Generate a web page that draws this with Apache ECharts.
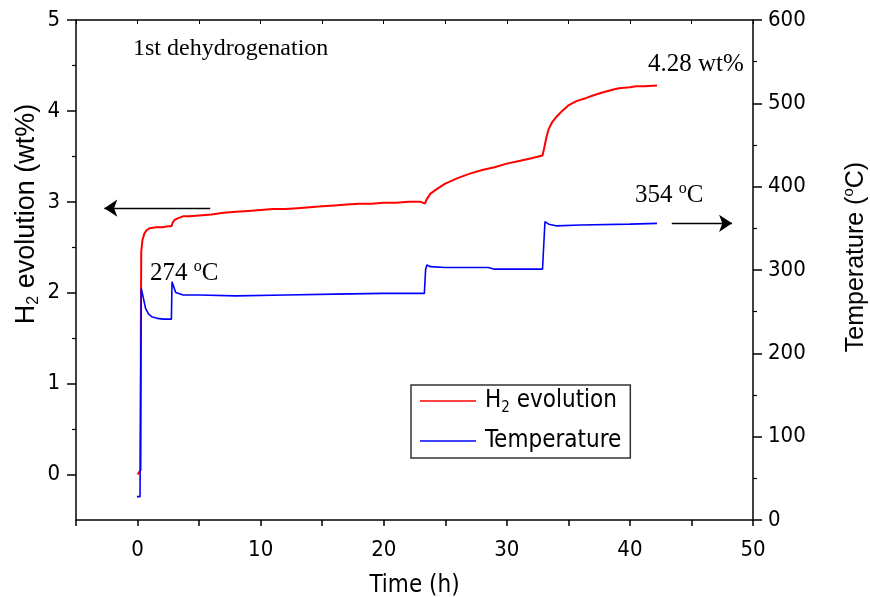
<!DOCTYPE html>
<html><head><meta charset="utf-8">
<script src="https://cdn.jsdelivr.net/npm/echarts@6/dist/echarts.min.js"></script>
<style>html,body{margin:0;padding:0;background:#fff}#c{width:870px;height:597px}</style>
</head><body><div id="c"></div>
<script>
// ---- data ----
const h2Time = [0, 0.15, 0.25, 0.27, 0.3, 0.4, 0.55, 0.75, 1.0, 1.5, 2.0, 2.5, 2.75, 2.85, 3.0, 3.3, 3.7, 4.2, 5, 6, 7, 8, 9, 10, 11, 12, 13, 14, 15, 16, 17, 18, 19, 20, 21, 22, 23, 23.35, 23.5, 23.8, 24.3, 25, 26, 27, 28, 29, 30, 31, 32, 32.9, 33.05, 33.2, 33.4, 33.7, 34, 34.5, 35, 35.7, 36.4, 37, 37.7, 38.5, 39.1, 40, 40.5, 41.2, 42.2];
const h2Values = [0, 0.02, 0.05, 1.6, 2.45, 2.58, 2.65, 2.69, 2.71, 2.72, 2.72, 2.73, 2.73, 2.77, 2.80, 2.82, 2.84, 2.84, 2.85, 2.86, 2.88, 2.89, 2.90, 2.91, 2.92, 2.92, 2.93, 2.94, 2.95, 2.96, 2.97, 2.98, 2.98, 2.99, 2.99, 3.00, 3.00, 2.98, 3.03, 3.09, 3.14, 3.20, 3.26, 3.31, 3.35, 3.38, 3.42, 3.45, 3.48, 3.51, 3.60, 3.70, 3.80, 3.88, 3.93, 4.00, 4.06, 4.11, 4.14, 4.17, 4.20, 4.23, 4.25, 4.26, 4.27, 4.27, 4.28];
const tempTime = [-0.05, 0.2, 0.25, 0.3, 0.45, 0.65, 0.9, 1.15, 1.6, 2.1, 2.75, 2.8, 2.85, 3.1, 3.7, 5, 8, 12, 16, 20, 23.3, 23.4, 23.5, 23.8, 25, 28.5, 29, 32.9, 33.0, 33.1, 33.4, 34, 36, 40, 42.2];
const tempValues = [28, 28, 30, 278, 268, 254, 247, 244, 242, 241, 241, 286, 288, 273, 270, 270, 269, 270, 271, 272, 272, 300, 306, 304, 303, 303, 301, 301, 330, 358, 355, 353, 354, 355, 356];
const xTickLabels = [0, 10, 20, 30, 40, 50];
const leftTickLabels = [0, 1, 2, 3, 4, 5];
const leftMinorTicks = [0.5, 1.5, 2.5, 3.5, 4.5];
const seriesNames = ['H2 evolution', 'Temperature'];

const narrow = "'Liberation Sans Narrow','Arial Narrow','DejaVu Sans Condensed',sans-serif";
const sans = "'Liberation Sans',Arial,sans-serif";
const serif = "'Liberation Serif','Times New Roman',serif";

const zip = (a, b) => a.map((v, i) => [v, b[i]]);
const axisLineStyle = { color: '#000', width: 1.5 };

const chart = echarts.init(document.getElementById('c'), null, { renderer: 'canvas' });
chart.setOption({
  animation: false,
  backgroundColor: '#fff',
  grid: { left: 76, right: 117, top: 20, bottom: 77, containLabel: false, outerBoundsMode: 'none' },
  xAxis: [{
    type: 'value', min: -5, max: 50, interval: 5, position: 'bottom',
    axisLine: { lineStyle: axisLineStyle, onZero: false },
    axisTick: { show: true, inside: false, length: 6, lineStyle: axisLineStyle },
    axisLabel: { color: '#000', fontFamily: narrow, fontSize: 22, margin: 19,
      formatter: v => (xTickLabels.indexOf(v) >= 0 ? String(v) : '') },
    splitLine: { show: false },
    name: 'Time (h)', nameLocation: 'middle', nameGap: 54,
    nameTextStyle: { color: '#000', fontFamily: narrow, fontSize: 24 }
  }, {
    type: 'value', min: -5, max: 50, interval: 5, position: 'top',
    axisLine: { lineStyle: axisLineStyle, onZero: false },
    axisTick: { show: true, inside: true, length: 4, lineStyle: { color: '#000', width: 1 } },
    axisLabel: { show: false }, splitLine: { show: false }
  }],
  yAxis: [{
    type: 'value', min: -0.5, max: 5, interval: 0.5, position: 'left',
    axisLine: { show: true, lineStyle: axisLineStyle, onZero: false },
    axisTick: { show: true, length: 9, customValues: leftTickLabels, lineStyle: axisLineStyle },
    axisLabel: { color: '#000', fontFamily: narrow, fontSize: 22, margin: 16, customValues: leftTickLabels },
    splitLine: { show: false },
    name: '{h|H}{s|2}{t| evolution (wt%)}', nameLocation: 'middle', nameGap: 34, nameRotate: 90,
    nameMoveOverlap: false,
    nameTextStyle: { color: '#000', rich: {
      h: { fontFamily: sans, fontSize: 27, lineHeight: 30, color: '#000', padding: [0, 0, 0, 112] },
      t: { fontFamily: sans, fontSize: 27, lineHeight: 30, color: '#000' },
      s: { fontFamily: sans, fontSize: 16, lineHeight: 14, verticalAlign: 'bottom', color: '#000' }
    } }
  }, {
    type: 'value', min: 0, max: 600, interval: 100, position: 'right',
    axisLine: { show: true, lineStyle: axisLineStyle, onZero: false },
    axisTick: { show: true, length: 9, lineStyle: axisLineStyle },
    minorTick: { show: true, splitNumber: 2, length: 4, lineStyle: { color: '#000', width: 1.2 } },
    axisLabel: { color: '#000', fontFamily: narrow, fontSize: 22, margin: 15 },
    splitLine: { show: false },
    name: '{h|Temperature (}{o|o}{t|C)}', nameLocation: 'middle', nameGap: 88, nameRotate: 90,
    nameTextStyle: { color: '#000', rich: {
      h: { fontFamily: sans, fontSize: 25, lineHeight: 30, color: '#000', padding: [0, 0, 0, 26] },
      t: { fontFamily: sans, fontSize: 25, lineHeight: 30, color: '#000' },
      o: { fontFamily: sans, fontSize: 15, lineHeight: 14, verticalAlign: 'top', color: '#000' }
    } }
  }, {
    type: 'value', min: -0.5, max: 5, interval: 0.5, position: 'left',
    axisLine: { show: false, onZero: false }, axisLabel: { show: false }, splitLine: { show: false },
    axisTick: { show: true, length: 4, customValues: leftMinorTicks, lineStyle: { color: '#000', width: 1.2 } }
  }],
  legend: {
    show: true, orient: 'vertical', left: 411, top: 385,
    padding: [4, 9, 5, 9], itemGap: 13, itemWidth: 56, itemHeight: 1.5,
    borderColor: '#333', borderWidth: 1.5, backgroundColor: '#fff',
    data: [{ name: seriesNames[0], icon: 'rect' }, { name: seriesNames[1], icon: 'rect' }],
    formatter: n => n === seriesNames[0] ? '{h|H}{s|2}{t| evolution}' : '{h|Temperature}',
    textStyle: { color: '#000', rich: {
      h: { fontFamily: narrow, fontSize: 24, lineHeight: 30, color: '#000', padding: [0, 0, 0, 4] },
      t: { fontFamily: narrow, fontSize: 24, lineHeight: 30, color: '#000' },
      s: { fontFamily: narrow, fontSize: 15, lineHeight: 14, verticalAlign: 'bottom', color: '#000' }
    } }
  },
  series: [{
    name: seriesNames[0], type: 'line', xAxisIndex: 0, yAxisIndex: 0,
    data: zip(h2Time, h2Values), showSymbol: false, symbol: 'none',
    lineStyle: { color: '#ff0000', width: 2 }, itemStyle: { color: '#ff0000' },
    markLine: { silent: true, symbolSize: 13, label: { show: false },
      lineStyle: { color: '#000', width: 1.3, type: 'solid' },
      data: [[{ coord: [5.9, 2.93], symbol: 'none' }, { coord: [-2.7, 2.93], symbol: 'arrow' }]] }
  }, {
    name: seriesNames[1], type: 'line', xAxisIndex: 0, yAxisIndex: 1,
    data: zip(tempTime, tempValues), showSymbol: false, symbol: 'none',
    lineStyle: { color: '#0000ff', width: 1.6 }, itemStyle: { color: '#0000ff' },
    markLine: { silent: true, symbolSize: 13, label: { show: false },
      lineStyle: { color: '#000', width: 1.3, type: 'solid' },
      data: [[{ coord: [43.4, 356], symbol: 'none' }, { coord: [48.3, 356], symbol: 'arrow' }]] }
  }],
  graphic: [
    { type: 'text', left: 133, top: 37, style: { text: '1st dehydrogenation', font: '24px ' + serif, fill: '#000' } },
    { type: 'text', left: 648, top: 52, style: { text: '4.28 wt%', font: '25px ' + serif, fill: '#000' } },
    { type: 'text', left: 150, top: 259, style: { text: '{t|274 }{o|o}{t|C}', fill: '#000',
      rich: { t: { fontFamily: serif, fontSize: 25, lineHeight: 28 }, o: { fontFamily: serif, fontSize: 16, lineHeight: 16, verticalAlign: 'top' } } } },
    { type: 'text', left: 635, top: 181, style: { text: '{t|354 }{o|o}{t|C}', fill: '#000',
      rich: { t: { fontFamily: serif, fontSize: 25, lineHeight: 28 }, o: { fontFamily: serif, fontSize: 16, lineHeight: 16, verticalAlign: 'top' } } } }
  ]
});
</script>
</body></html>
